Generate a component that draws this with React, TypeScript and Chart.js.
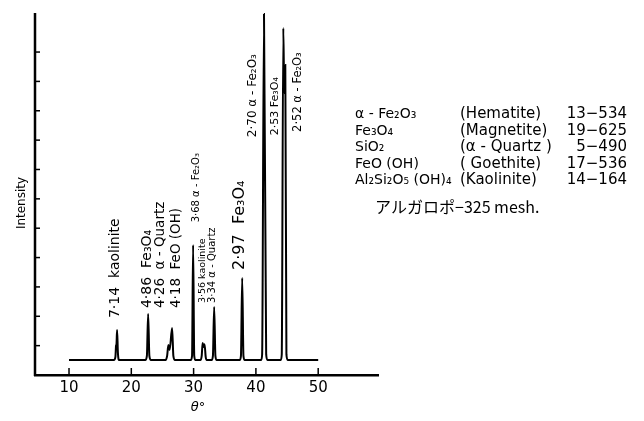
import React, { useEffect, useRef } from "react";
import { Chart, registerables } from "chart.js";

Chart.register(...registerables);

// Diffraction trace (2θ in degrees, relative intensity)
const twoTheta = [
  10, 17.2, 17.45, 17.55, 17.62, 17.72, 17.85, 18.05,
  22.25, 22.5, 22.7, 22.9, 23.15,
  25.5, 25.75, 25.95, 26.15, 26.55, 26.75, 27.0,
  29.55, 29.75, 29.92, 30.1, 30.3,
  31.1, 31.3, 31.45, 31.6, 31.75, 31.95, 32.1,
  32.9, 33.1, 33.3, 33.5, 33.7,
  37.4, 37.6, 37.8, 38.0, 38.2,
  40.85, 41.0, 41.3, 41.65, 41.85,
  44.0, 44.15, 44.4, 44.55, 44.72, 44.9, 45.1,
  50,
];
const intensity = [
  0.51, 0.51, 0.62, 1.0, 1.05, 1.53, 0.75, 0.51,
  0.51, 0.65, 2.08, 0.65, 0.51,
  0.51, 0.65, 1.02, 0.85, 1.6, 0.65, 0.51,
  0.51, 0.65, 4.43, 0.65, 0.51,
  0.51, 0.65, 1.09, 0.95, 1.05, 0.6, 0.51,
  0.51, 0.65, 2.32, 0.65, 0.51,
  0.51, 0.65, 3.3, 0.65, 0.51,
  0.51, 0.7, 12.3, 0.7, 0.51,
  0.51, 0.7, 11.82, 9.6, 10.56, 0.7, 0.51,
  0.51,
];

const xTickValues = [10, 20, 30, 40, 50];
const yTickValues = [1, 2, 3, 4, 5, 6, 7, 8, 9, 10, 11];

// Peak annotations (d-spacing and phase), anchored at (2θ, intensity)
const peakLabelText = [
  "7·14  kaolinite",
  "4·86  Fe₃O₄",
  "4·26  α - Quartz",
  "4·18  FeO (OH)",
  "3·68 α - Fe₂O₃",
  "3·56 kaolinite",
  "3·34 α - Quartz",
  "2·97  Fe₃O₄",
  "2·70 α - Fe₂O₃",
  "2·53 Fe₃O₄",
  "2·52 α - Fe₂O₃",
];
const peakLabelX = [17.4, 22.5, 24.65, 27.3, 30.4, 31.45, 33.05, 37.5, 39.55, 43.1, 46.8];
const peakLabelY = [1.94, 2.28, 2.28, 2.28, 5.2, 2.45, 2.45, 3.58, 8.1, 8.17, 8.28];
const peakLabelSize = [14, 14, 13.5, 13.5, 10, 9.5, 10, 16, 12, 11, 11.5];

// Phase reference table
const phaseFormula = ["α - Fe₂O₃", "Fe₃O₄", "SiO₂", "FeO (OH)", "Al₂Si₂O₅ (OH)₄"];
const phaseMineral = ["(Hematite)", "(Magnetite)", "(α - Quartz )", "( Goethite)", "(Kaolinite)"];
const phaseCard = ["13−534", "19−625", "5−490", "17−536", "14−164"];
const sampleNote = "アルガロポ−325 mesh.";

const FONT = "'DejaVu Sans', 'Liberation Sans', Arial, sans-serif";

const decorPlugin = {
  id: "xrdDecor",
  afterDraw(chart: any) {
    const ctx = chart.ctx;
    const xs = chart.scales.x;
    const ys = chart.scales.y;
    const area = chart.chartArea;
    ctx.save();
    ctx.strokeStyle = "#000";
    ctx.fillStyle = "#000";

    // y axis line
    ctx.lineWidth = 2.5;
    ctx.beginPath();
    ctx.moveTo(area.left, area.top);
    ctx.lineTo(area.left, area.bottom + 1);
    ctx.stroke();

    // inward ticks
    ctx.lineWidth = 1.5;
    yTickValues.forEach((v) => {
      const py = ys.getPixelForValue(v);
      ctx.beginPath();
      ctx.moveTo(area.left, py);
      ctx.lineTo(area.left + 5, py);
      ctx.stroke();
    });
    xTickValues.forEach((v) => {
      const px = xs.getPixelForValue(v);
      ctx.beginPath();
      ctx.moveTo(px, area.bottom);
      ctx.lineTo(px, area.bottom - 7);
      ctx.stroke();
    });

    // peak labels (vertical)
    peakLabelText.forEach((t, i) => {
      const px = xs.getPixelForValue(peakLabelX[i]);
      const py = ys.getPixelForValue(peakLabelY[i]);
      ctx.save();
      ctx.translate(px, py);
      ctx.rotate(-Math.PI / 2);
      ctx.font = `${peakLabelSize[i]}px ${FONT}`;
      ctx.textAlign = "left";
      ctx.textBaseline = "middle";
      ctx.fillText(t, 0, 0);
      ctx.restore();
    });

    // axis titles
    ctx.save();
    ctx.translate(22, 203);
    ctx.rotate(-Math.PI / 2);
    ctx.font = `12px ${FONT}`;
    ctx.textAlign = "center";
    ctx.textBaseline = "middle";
    ctx.fillText("Intensity", 0, 0);
    ctx.restore();

    ctx.font = `italic 13px ${FONT}`;
    ctx.textAlign = "center";
    ctx.textBaseline = "middle";
    ctx.fillText("θ°", xs.getPixelForValue(30.7), 408);

    // phase table
    const rowY = [114, 131, 147, 164, 180];
    ctx.textBaseline = "middle";
    phaseFormula.forEach((f, i) => {
      ctx.textAlign = "left";
      ctx.font = `14px ${FONT}`;
      ctx.fillText(f, 355, rowY[i]);
      ctx.font = `15px ${FONT}`;
      ctx.fillText(phaseMineral[i], 460, rowY[i]);
      ctx.textAlign = "right";
      ctx.fillText(phaseCard[i], 627, rowY[i]);
    });
    ctx.textAlign = "left";
    ctx.font = `16px 'Noto Sans CJK JP', ${FONT}`;
    ctx.fillText(sampleNote, 375, 207);

    ctx.restore();
  },
};

export default function App() {
  const ref = useRef<HTMLCanvasElement | null>(null);
  useEffect(() => {
    if (!ref.current) return;
    const chart = new Chart(ref.current, {
      type: "line",
      data: {
        datasets: [
          {
            data: twoTheta.map((x, i) => ({ x, y: intensity[i] })),
            borderColor: "#000",
            borderWidth: 2,
            pointRadius: 0,
            fill: false,
            cubicInterpolationMode: "monotone",
          },
        ],
      },
      options: {
        animation: false,
        responsive: false,
        devicePixelRatio: 1,
        layout: { padding: { left: 35, top: 13, right: 266, bottom: 20 } },
        plugins: { legend: { display: false }, tooltip: { enabled: false } },
        scales: {
          x: {
            type: "linear",
            min: 4.54,
            max: 59.6,
            afterBuildTicks: (axis: any) => {
              axis.ticks = xTickValues.map((v) => ({ value: v }));
            },
            grid: { display: false, drawTicks: false },
            border: { display: true, color: "#000", width: 2.5 },
            ticks: {
              color: "#000",
              padding: 4,
              maxRotation: 0,
              autoSkip: false,
              font: { size: 15, family: FONT },
            },
          },
          y: {
            type: "linear",
            display: false,
            min: 0,
            max: 12.33,
          },
        },
      },
      plugins: [decorPlugin],
    });
    return () => chart.destroy();
  }, []);
  return (
    <div style={{ position: "fixed", left: 0, top: 0, width: 644, height: 421, background: "#fff" }}>
      <canvas ref={ref} width={644} height={421} />
    </div>
  );
}
